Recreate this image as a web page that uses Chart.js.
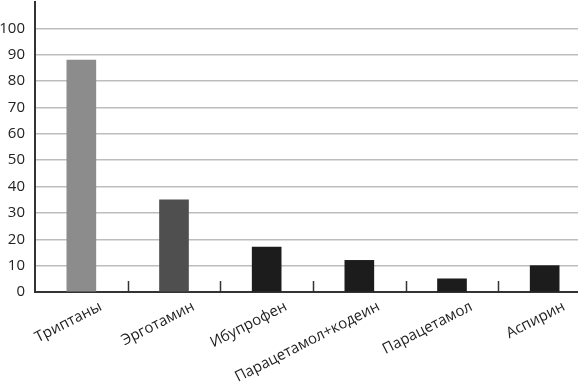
<!DOCTYPE html>
<html>
<head>
<meta charset="utf-8">
<script src="https://cdn.jsdelivr.net/npm/chart.js@4/dist/chart.umd.min.js"></script>
<style>
  html, body { margin: 0; padding: 0; background: #fff; overflow: hidden; }
  canvas { display: block; }
</style>
</head>
<body>
<canvas id="chart" width="595" height="391"></canvas>
<script>
const categories = ['Триптаны', 'Эрготамин', 'Ибупрофен', 'Парацетамол+кодеин', 'Парацетамол', 'Аспирин'];
const values = [88, 35, 17, 12, 5, 10];
const yMax = 110;      // axis runs a little above the last labelled tick
const yStep = 10;
const yLastLabel = 100;

// short marks between categories, drawn upward from the x axis,
// and the slanted category names under the axis
const categoryAxis = {
  id: 'categoryAxis',
  afterDatasetsDraw(chart) {
    const x = chart.scales.x;
    const bottom = chart.chartArea.bottom;
    const ctx = chart.ctx;
    ctx.save();
    ctx.strokeStyle = '#333';
    ctx.lineWidth = 1.5;
    for (let i = 0; i < categories.length - 1; i++) {
      const px = (x.getPixelForTick(i) + x.getPixelForTick(i + 1)) / 2;
      ctx.beginPath();
      ctx.moveTo(Math.round(px) + 0.5, bottom);
      ctx.lineTo(Math.round(px) + 0.5, bottom - 11);
      ctx.stroke();
    }

    ctx.fillStyle = '#222';
    ctx.font = '15px "Open Sans"';
    ctx.textAlign = 'right';
    ctx.textBaseline = 'top';
    categories.forEach((name, i) => {
      ctx.save();
      ctx.translate(x.getPixelForTick(i) + 16, bottom + 7);
      ctx.rotate(-27 * Math.PI / 180);
      ctx.fillText(name, 0, 0);
      ctx.restore();
    });
    ctx.restore();
  }
};

new Chart(document.getElementById('chart'), {
  type: 'bar',
  data: {
    labels: categories,
    datasets: [{
      data: values,
      backgroundColor: ['#8c8c8c', '#4f4f4f', '#1c1c1c', '#1c1c1c', '#1c1c1c', '#1c1c1c'],
      barThickness: 29,
    }]
  },
  options: {
    responsive: false,
    animation: false,
    layout: { padding: { top: 2, right: 4, left: 0, bottom: 0 } },
    plugins: { legend: { display: false }, tooltip: { enabled: false } },
    scales: {
      x: {
        grid: { display: false },
        border: { color: '#333', width: 2 },
        ticks: { display: false },
        afterFit(scale) {
          scale.height = 99;
          scale.paddingLeft = 0;
          scale.paddingRight = 0;
        },
      },
      y: {
        min: 0,
        max: yMax,
        border: { color: '#333', width: 2 },
        grid: {
          drawTicks: false,
          lineWidth: 1.5,
          color: (c) => (c.tick && c.tick.value > yLastLabel ? 'rgba(0,0,0,0)' : '#bdbdbd'),
        },
        ticks: {
          stepSize: yStep,
          padding: 10,
          color: '#222',
          font: { family: 'Open Sans', size: 15 },
          callback: (v) => (v > yLastLabel ? '' : v),
        },
        afterFit(scale) {
          scale.width = 35;
          scale.paddingTop = 0;
          scale.paddingBottom = 0;
        },
      }
    }
  },
  plugins: [categoryAxis]
});
</script>
</body>
</html>
